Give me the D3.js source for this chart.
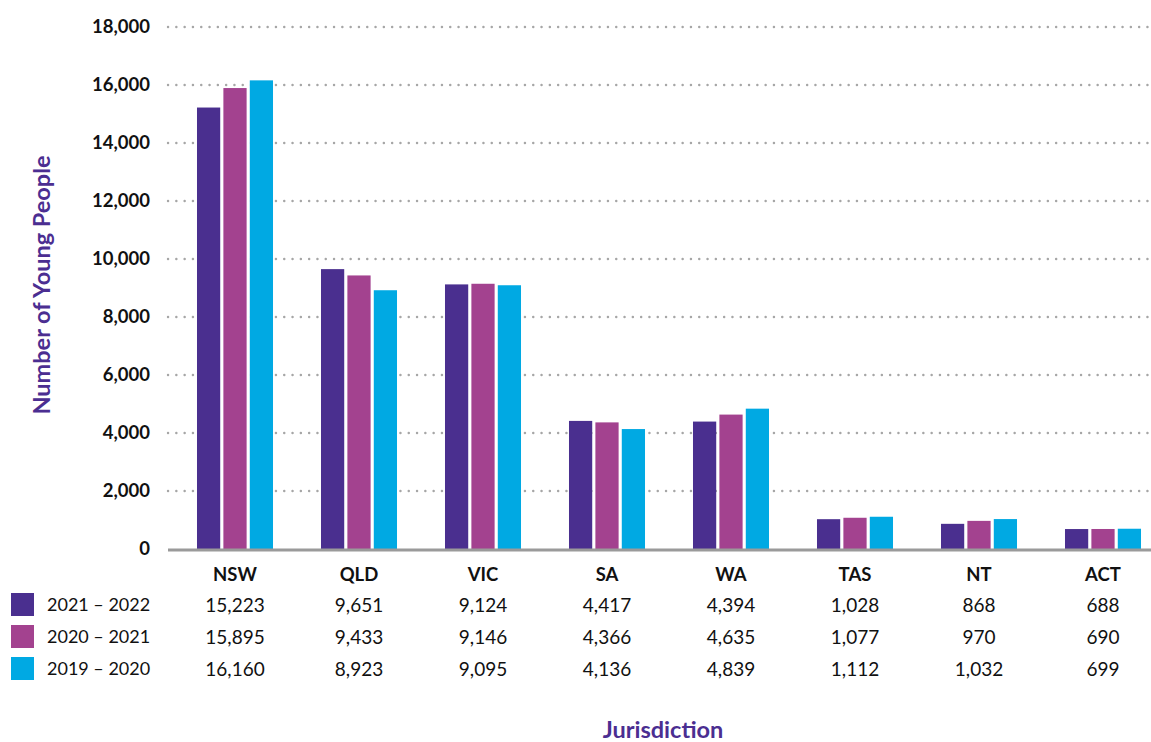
<!DOCTYPE html>
<html>
<head>
<meta charset="utf-8">
<script src="https://cdn.jsdelivr.net/npm/d3@7"></script>
<style>
  body { margin: 0; background: #fff; }
  svg { font-family: "Lato", "Noto Sans", sans-serif; display: block; }
  .tick-label { font-size: 18.5px; font-weight: bold; fill: #111; }
  .cat-label { font-size: 18.5px; font-weight: bold; fill: #111; }
  .cell { font-size: 19px; fill: #111; }
  .legend-label { font-size: 18px; fill: #111; }
  .axis-title { font-size: 23.5px; font-weight: bold; fill: #4b2e91; }
</style>
</head>
<body>
<div id="chart"></div>
<script>
// jurisdictions along the x axis
var jurisdictions = ["NSW", "QLD", "VIC", "SA", "WA", "TAS", "NT", "ACT"];
var seriesNames = ["2021 \u2013 2022", "2020 \u2013 2021", "2019 \u2013 2020"];
var seriesColors = ["#4a2f8f", "#a3428f", "#00a9e3"];
var values2122 = [15223, 9651, 9124, 4417, 4394, 1028, 868, 688];
var values2021 = [15895, 9433, 9146, 4366, 4635, 1077, 970, 690];
var values1920 = [16160, 8923, 9095, 4136, 4839, 1112, 1032, 699];
var yTicks = [0, 2000, 4000, 6000, 8000, 10000, 12000, 14000, 16000, 18000];

var allSeries = [values2122, values2021, values1920];

var width = 1151, height = 742;
var svg = d3.select("#chart").append("svg")
    .attr("width", width)
    .attr("height", height);

var plotLeft = 168, plotRight = 1151;
var y = d3.scaleLinear().domain([0, 18000]).range([549, 27]);

var x0 = d3.scaleBand()
    .domain(jurisdictions)
    .range([173, 1165])
    .paddingInner(0.387)
    .paddingOuter(0.1935);

var x1 = d3.scaleBand()
    .domain(d3.range(seriesNames.length))
    .range([0, x0.bandwidth()])
    .paddingInner(0.12);

// dotted gridlines
svg.append("g").selectAll("line")
    .data(yTicks.filter(function (d) { return d > 0; }))
    .enter().append("line")
    .attr("x1", plotLeft)
    .attr("x2", plotRight)
    .attr("y1", function (d) { return y(d); })
    .attr("y2", function (d) { return y(d); })
    .attr("stroke", "#a6a6a6")
    .attr("stroke-width", 2.4)
    .attr("stroke-linecap", "round")
    .attr("stroke-dasharray", "0.1,8.2");

// y tick labels
svg.append("g").selectAll("text")
    .data(yTicks)
    .enter().append("text")
    .attr("class", "tick-label")
    .attr("x", 150)
    .attr("y", function (d) { return y(d); })
    .attr("dy", "0.35em")
    .attr("text-anchor", "end")
    .text(function (d) { return d3.format(",")(d); });

// bars
var groups = svg.append("g").selectAll("g")
    .data(jurisdictions)
    .enter().append("g")
    .attr("transform", function (d) { return "translate(" + x0(d) + ",0)"; });

groups.selectAll("rect")
    .data(function (d, i) {
        return allSeries.map(function (s, k) { return {k: k, v: s[i]}; });
    })
    .enter().append("rect")
    .attr("x", function (d) { return x1(d.k); })
    .attr("width", x1.bandwidth())
    .attr("y", function (d) { return y(d.v); })
    .attr("height", function (d) { return y(0) - y(d.v); })
    .attr("fill", function (d) { return seriesColors[d.k]; });

// baseline
svg.append("line")
    .attr("x1", plotLeft)
    .attr("x2", plotRight)
    .attr("y1", y(0) + 1)
    .attr("y2", y(0) + 1)
    .attr("stroke", "#9a9a9a")
    .attr("stroke-width", 3);

// category labels
svg.append("g").selectAll("text")
    .data(jurisdictions)
    .enter().append("text")
    .attr("class", "cat-label")
    .attr("x", function (d) { return x0(d) + x0.bandwidth() / 2; })
    .attr("y", 581)
    .attr("text-anchor", "middle")
    .text(function (d) { return d; });

// data table rows with legend
var rowY = [605, 637, 669];
seriesNames.forEach(function (name, k) {
    var row = svg.append("g");
    row.append("rect")
        .attr("x", 11)
        .attr("y", rowY[k] - 12)
        .attr("width", 23)
        .attr("height", 23)
        .attr("fill", seriesColors[k]);
    row.append("text")
        .attr("class", "legend-label")
        .attr("x", 47)
        .attr("y", rowY[k])
        .attr("dy", "0.35em")
        .text(name);
    row.selectAll("text.val")
        .data(allSeries[k])
        .enter().append("text")
        .attr("class", "cell val")
        .attr("x", function (d, i) { return x0(jurisdictions[i]) + x0.bandwidth() / 2; })
        .attr("y", rowY[k])
        .attr("dy", "0.35em")
        .attr("text-anchor", "middle")
        .text(function (d) { return d3.format(",")(d); });
});

// axis titles
svg.append("text")
    .attr("class", "axis-title")
    .attr("transform", "translate(50,285) rotate(-90)")
    .attr("text-anchor", "middle")
    .text("Number of Young People");

svg.append("text")
    .attr("class", "axis-title")
    .attr("x", 663)
    .attr("y", 738)
    .attr("text-anchor", "middle")
    .text("Jurisdiction");
</script>
</body>
</html>
